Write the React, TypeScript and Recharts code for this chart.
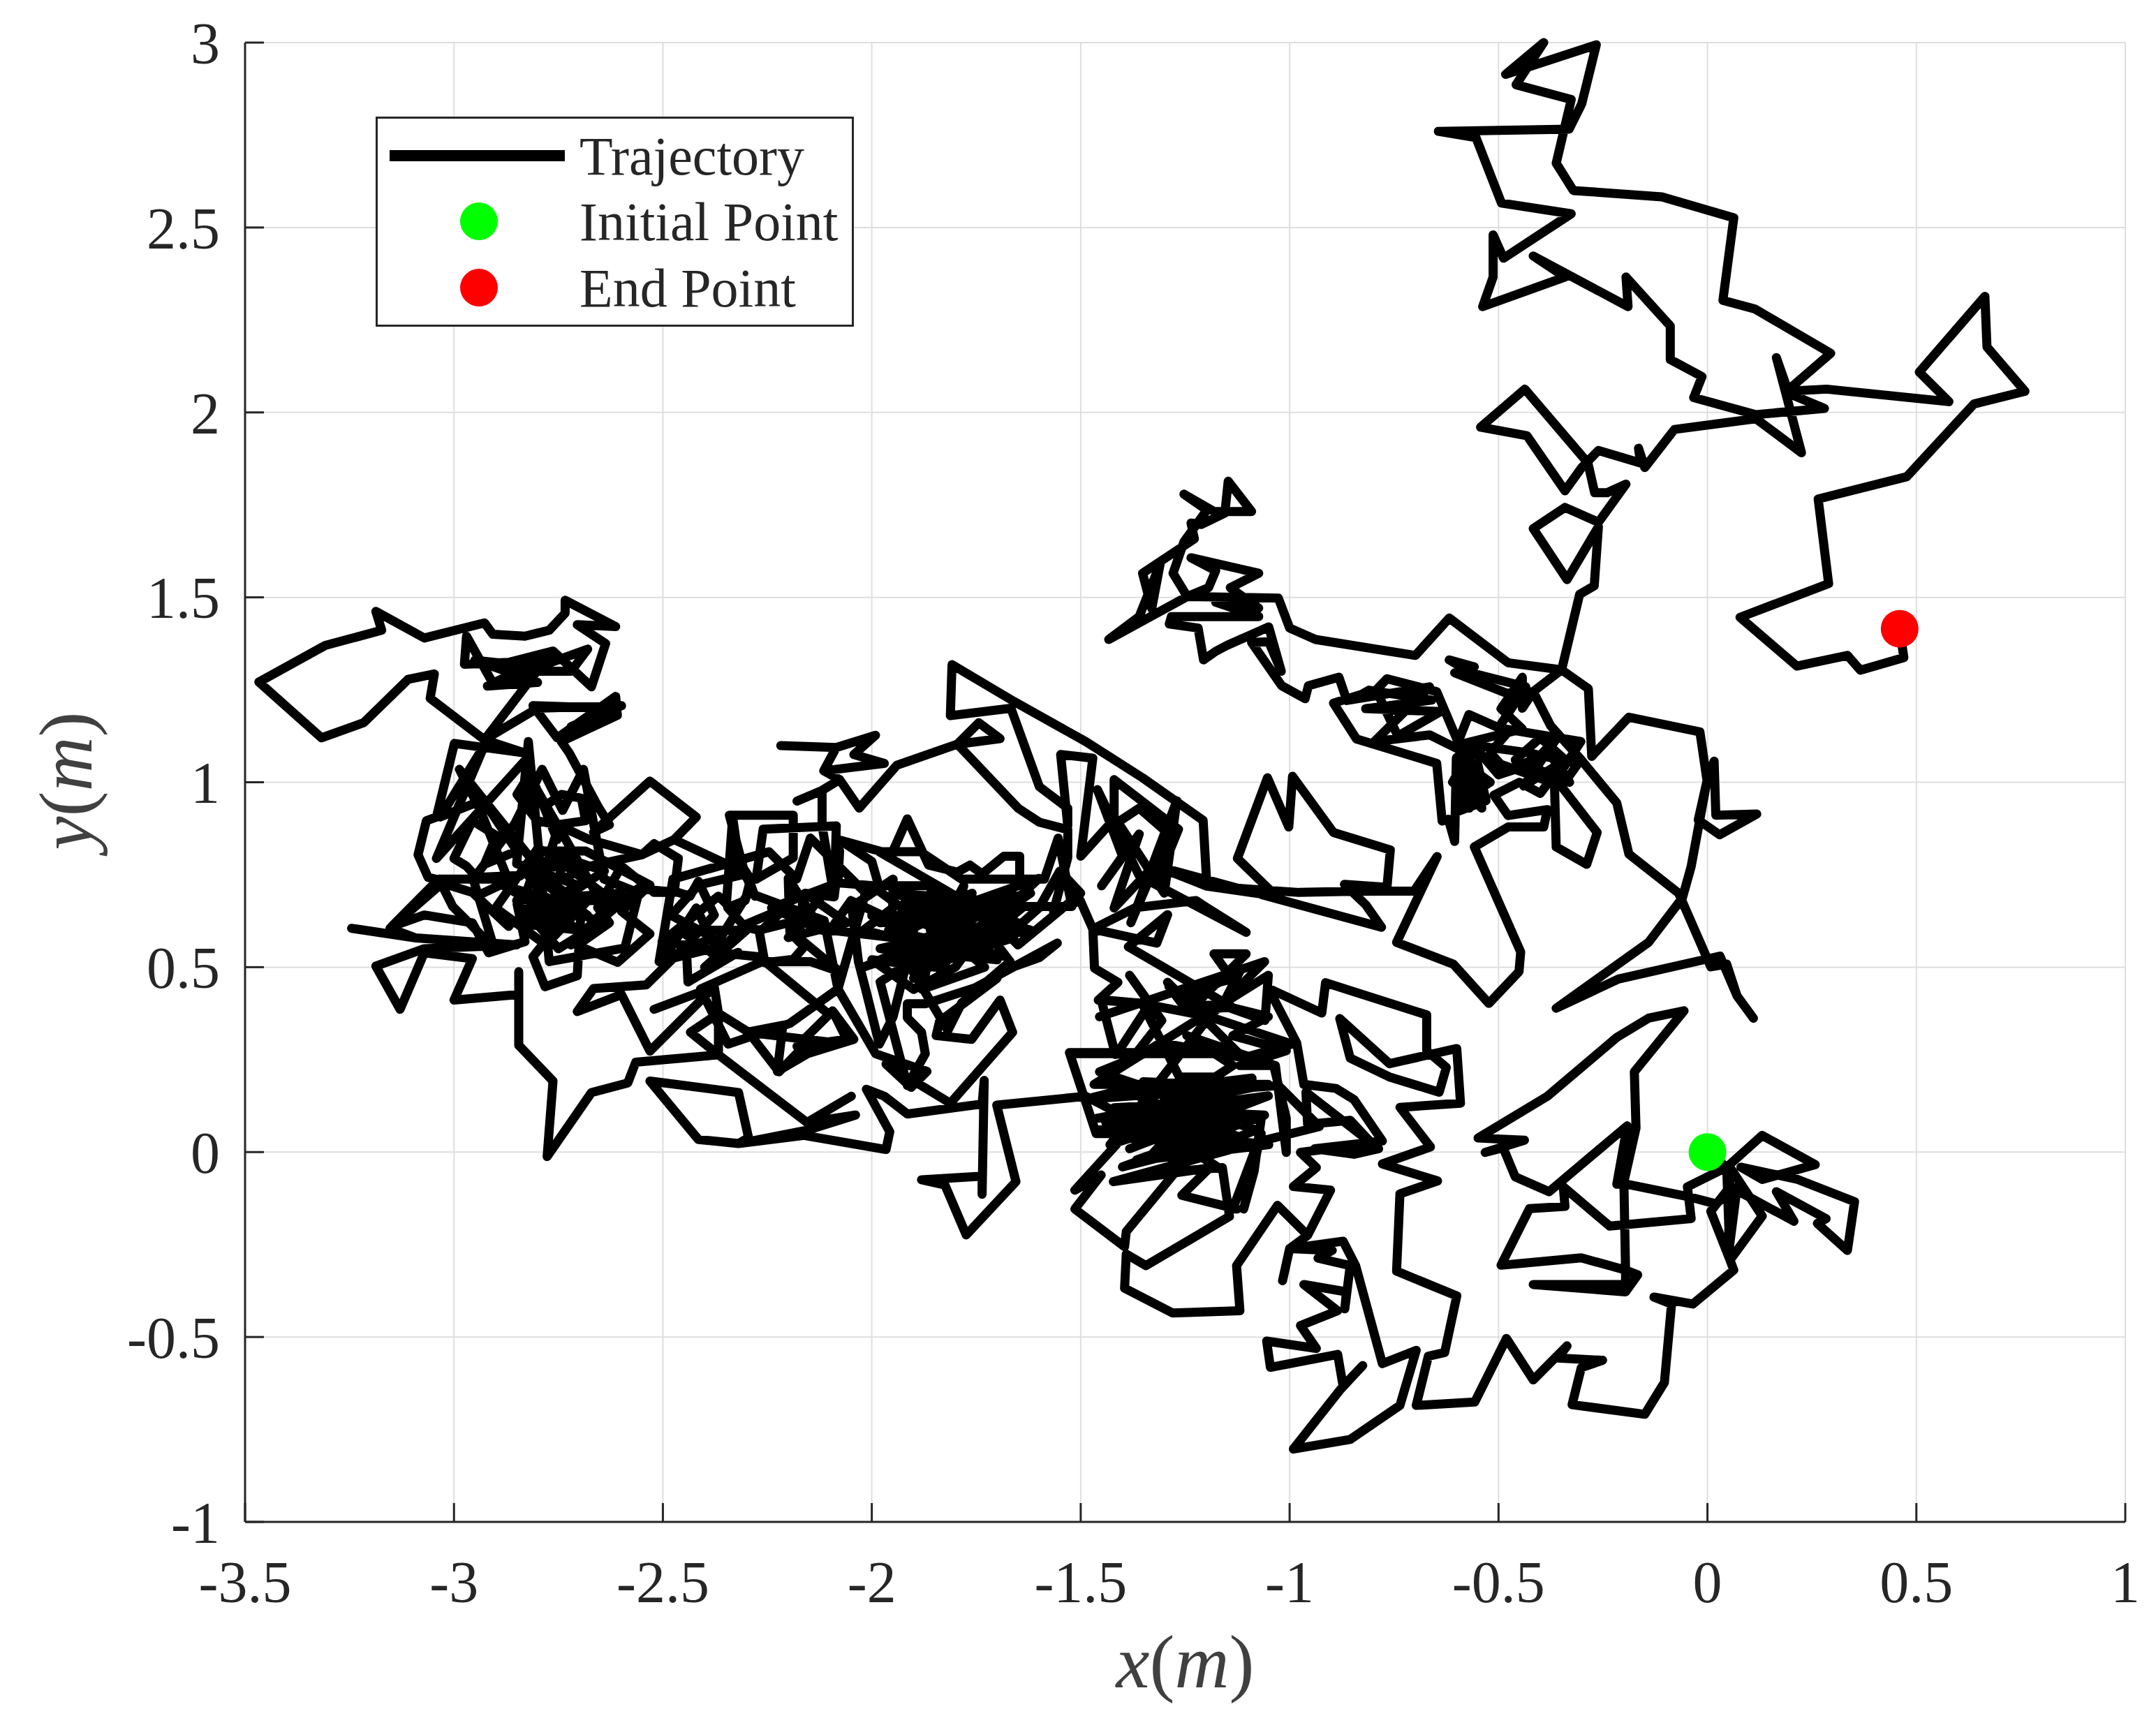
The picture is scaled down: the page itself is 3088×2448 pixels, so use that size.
import { Legend, Label, CartesianGrid, Scatter, ScatterChart, XAxis, YAxis } from "recharts";

type Pt = [number, number];

const xTicks = [-3.5, -3, -2.5, -2, -1.5, -1, -0.5, 0, 0.5, 1];
const yTicks = [-1, -0.5, 0, 0.5, 1, 1.5, 2, 2.5, 3];
const legendLabels = ["Trajectory", "Initial Point", "End Point"];
const initialPoint: Pt[] = [[0, 0]];
const endPoint: Pt[] = [[0.46, 1.415]];

// path, region by region, in metres
const startCluster: Pt[] = [
  [0, 0], [0.046, -0.041], [0.131, 0.045], [0.258, -0.034], [0.131, -0.074], [0.08, -0.041], [0.216, -0.074],
  [0.352, -0.134], [0.335, -0.266], [0.263, -0.193], [0.284, -0.18], [0.165, -0.107], [0.207, -0.187], [0.097, -0.12],
  [0.054, -0.094], [0.008, -0.16], [0.054, -0.292], [0.131, -0.173], [0.054, -0.041], [0.05, -0.279], [0.071, -0.094],
  [0.02, -0.14], [-0.048, -0.12], [-0.192, -0.087], [-0.217, -0.087], [-0.192, 0.071], [-0.379, -0.107], [-0.46, -0.067],
  [-0.489, 0.012], [-0.532, -0.001], [-0.438, 0.032], [-0.549, 0.038], [-0.383, 0.151], [-0.217, 0.31], [-0.141, 0.362],
  [-0.056, 0.382], [-0.175, 0.217], [-0.171, 0.065], [-0.2, -0.081], [-0.196, -0.319], [-0.167, -0.332], [-0.196, -0.378],
  [-0.417, -0.358], [-0.196, -0.358], [-0.196, -0.319], [-0.302, -0.286], [-0.494, -0.306], [-0.426, -0.153], [-0.341, -0.147],
  [-0.345, -0.094], [-0.234, -0.2], [-0.039, -0.18], [-0.048, -0.094], [0.046, -0.041], [0.054, -0.292], [0.063, -0.319],
];

const southLeg: Pt[] = [
  [-0.035, -0.411], [-0.128, -0.392], [-0.086, -0.411], [-0.103, -0.623], [-0.15, -0.709], [-0.324, -0.683], [-0.302, -0.583],
  [-0.251, -0.563], [-0.358, -0.557], [-0.336, -0.524], [-0.417, -0.616], [-0.481, -0.504], [-0.557, -0.676], [-0.697, -0.685],
  [-0.668, -0.552], [-0.629, -0.542], [-0.6, -0.389], [-0.744, -0.322], [-0.736, -0.113], [-0.646, -0.078], [-0.778, -0.032],
  [-0.663, 0.014], [-0.736, 0.121], [-0.591, 0.132], [-0.6, 0.28], [-0.761, 0.239], [-0.88, 0.361], [-0.855, 0.254],
  [-0.761, 0.203], [-0.642, 0.162], [-0.625, 0.229], [-0.672, 0.274], [-0.672, 0.371], [-0.914, 0.458],
];

const centralBlob: Pt[] = [
  [-0.923, 0.376], [-1.051, 0.443], [-0.983, 0.295], [-0.966, 0.183], [-0.889, 0.172], [-0.846, 0.142], [-0.778, 0.03],
  [-0.94, 0.009], [-0.846, -0.006], [-0.787, 0.009], [-0.897, 0.106], [-0.961, 0.162], [-0.957, 0.075], [-0.855, 0.086],
  [-0.804, 0.024], [-0.974, -0.001], [-0.936, -0.042], [-0.991, -0.093], [-0.902, -0.103], [-0.957, -0.225],
];

const southLoop: Pt[] = [
  [-1.0, -0.261], [-1.017, -0.348], [-1.0, -0.261], [-0.872, -0.241], [-0.842, -0.307], [-0.778, -0.572], [-0.697, -0.536],
  [-0.736, -0.685], [-0.855, -0.777], [-0.991, -0.803], [-0.88, -0.644], [-0.825, -0.577], [-0.872, -0.633], [-0.885, -0.547],
  [-1.046, -0.582], [-1.055, -0.511], [-0.936, -0.531], [-0.974, -0.469], [-0.885, -0.429], [-0.966, -0.358], [-0.864, -0.378],
  [-0.868, -0.424], [-0.855, -0.307], [-0.932, -0.287], [-0.898, -0.266], [-1.0, -0.261], [-0.957, -0.225],
];

const centralBlobWest: Pt[] = [
  [-1.029, -0.144], [-1.127, -0.307], [-1.119, -0.429], [-1.28, -0.435], [-1.395, -0.368], [-1.391, -0.276], [-1.344, -0.307],
  [-1.144, -0.174], [-1.161, -0.042], [-1.272, -0.052], [-1.391, -0.215], [-1.395, -0.256], [-1.514, -0.154], [-1.451, -0.062],
  [-1.514, -0.103], [-1.391, 0.05], [-1.463, 0.05], [-1.527, 0.269], [-1.366, 0.269], [-1.306, 0.356], [-1.383, 0.478],
  [-1.306, 0.356], [-1.366, 0.269], [-1.417, 0.264], [-1.451, 0.412], [-1.353, 0.402], [-1.264, 0.203], [-1.178, 0.203],
  [-1.136, 0.234], [-1.246, 0.315], [-1.034, 0.234], [-1.008, -0.001], [-1.008, 0.091], [-1.038, 0.234], [-1.119, 0.234],
  [-1.008, 0.274], [-1.136, 0.315], [-1.051, 0.366], [-1.161, 0.397], [-1.255, 0.397], [-1.289, 0.448], [-1.255, 0.407],
  [-1.119, 0.489], [-1.161, 0.397], [-1.059, 0.356], [-1.051, 0.478], [-1.468, 0.183], [-1.051, 0.183], [-1.463, 0.091],
  [-1.051, 0.152], [-1.383, 0.009], [-1.102, 0.132], [-1.374, 0.06], [-1.136, 0.07], [-1.366, -0.021], [-1.161, 0.009],
  [-1.459, 0.06], [-1.068, 0.091], [-1.085, -0.052], [-1.11, -0.154], [-1.068, 0.05], [-1.136, -0.154],
];

const centralSpread: Pt[] = [
  [-1.126, -0.154], [-1.258, -0.117], [-1.192, -0.043], [-1.422, -0.08], [-1.06, 0.032], [-0.929, 0.069], [-1.027, 0.18],
  [-1.488, 0.143], [-1.357, 0.18], [-1.455, 0.217], [-1.291, 0.292], [-1.11, 0.255], [-0.994, 0.292], [-1.192, 0.366],
  [-1.357, 0.403], [-1.455, 0.366], [-1.06, 0.515], [-1.192, 0.366],
];

const centralDense: Pt[] = [
  [-1.43, 0.02], [-1.1, 0.14], [-1.42, 0.12], [-1.06, 0.1], [-1.4, -0.04], [-1.12, 0.04], [-1.38, 0.16], [-1.09, 0.2],
  [-1.36, 0.1], [-1.16, -0.05], [-1.3, 0.05], [-1.05, 0.02], [-1.34, -0.02], [-1.2, 0.16], [-1.44, 0.08], [-1.14, 0.12],
  [-1.28, -0.03], [-1.08, 0.06], [-1.3, 0.14], [-1.2, 0.03], [-1.4, 0.04], [-1.18, 0.11], [-1.35, 0.19], [-1.12, 0.18],
  [-1.26, 0.09], [-1.2, -0.02], [-1.488, 0.151],
];

const westCrossing: Pt[] = [
  [-1.701, 0.127], [-1.655, -0.08], [-1.774, -0.224], [-1.825, -0.089], [-1.881, -0.075], [-1.736, -0.065], [-1.736, -0.114],
  [-1.731, 0.194], [-1.736, 0.13], [-1.915, 0.103], [-1.97, 0.151], [-2.013, 0.17], [-1.957, 0.055], [-1.966, 0.007],
  [-2.162, 0.045], [-2.319, 0.023], [-2.415, 0.034], [-2.531, 0.192], [-2.319, 0.161], [-2.295, 0.039], [-2.319, 0.023],
  [-2.155, 0.059], [-2.039, 0.1], [-2.155, 0.08], [-2.049, 0.151], [-2.155, 0.08], [-2.367, 0.263], [-2.565, 0.243],
  [-2.584, 0.187], [-2.671, 0.161], [-2.777, -0.012], [-2.763, 0.192], [-2.845, 0.289], [-2.845, 0.488], [-2.845, 0.426],
  [-3.0, 0.411], [-2.956, 0.523], [-3.071, 0.539], [-3.129, 0.386], [-3.187, 0.503], [-3.071, 0.55], [-2.85, 0.56],
  [-3.091, 0.579], [-3.245, 0.605], [-3.091, 0.579], [-3.153, 0.605], [-3.023, 0.732], [-3.062, 0.743], [-3.086, 0.804],
  [-3.066, 0.896], [-3.042, 0.906], [-2.999, 1.105],
];

const farWest: Pt[] = [
  [-2.83, 1.079], [-2.927, 1.115], [-3.057, 1.227], [-3.047, 1.293], [-3.11, 1.278], [-3.216, 1.161], [-3.317, 1.12],
  [-3.467, 1.271], [-3.308, 1.37], [-3.173, 1.411], [-3.187, 1.462], [-3.071, 1.39], [-2.927, 1.431], [-2.907, 1.4],
  [-2.83, 1.395], [-2.772, 1.411], [-2.734, 1.457], [-2.734, 1.492], [-2.613, 1.421], [-2.705, 1.426], [-2.637, 1.375],
  [-2.671, 1.258], [-2.763, 1.355], [-2.869, 1.324], [-2.975, 1.319], [-2.97, 1.395], [-2.907, 1.268], [-2.821, 1.314],
  [-2.95, 1.33], [-2.8, 1.27], [-2.92, 1.26], [-2.76, 1.33], [-2.88, 1.3], [-2.72, 1.3], [-2.68, 1.36],
  [-2.792, 1.314], [-2.927, 1.115], [-2.8, 1.2], [-2.599, 1.207], [-2.72, 1.15], [-2.62, 1.2], [-2.811, 1.207], [-2.753, 1.12], [-2.613, 1.232],
  [-2.609, 1.181], [-2.743, 1.11], [-2.724, 1.079], [-2.656, 0.936], [-2.628, 0.885], [-2.666, 0.865], [-2.531, 1.003],
  [-2.42, 0.906], [-2.473, 0.845], [-2.55, 0.804], [-2.676, 0.845], [-2.753, 0.885],
];

const westBlob: Pt[] = [
  [-2.801, 0.896], [-2.849, 0.967], [-2.821, 1.018], [-2.753, 0.885], [-2.685, 0.896], [-2.695, 0.957], [-2.743, 0.967],
  [-2.782, 0.936], [-2.753, 0.845], [-2.83, 1.059], [-3.042, 0.794], [-2.927, 1.1], [-3.033, 0.906], [-2.931, 0.952],
  [-2.849, 0.814], [-2.927, 0.778], [-2.898, 0.855], [-2.956, 0.896], [-3.0, 0.794], [-2.97, 0.773], [-2.946, 0.743],
  [-2.84, 0.748], [-2.946, 0.692], [-2.869, 0.61], [-2.956, 0.702], [-3.042, 0.732], [-3.149, 0.61], [-3.071, 0.641],
  [-2.956, 0.62], [-2.917, 0.539], [-2.83, 0.569], [-2.849, 0.671], [-2.811, 0.62], [-2.772, 0.651], [-2.83, 0.692],
  [-2.792, 0.814], [-2.685, 0.814], [-2.531, 0.722], [-2.599, 0.651], [-2.531, 0.59], [-2.608, 0.513], [-2.705, 0.559],
  [-2.628, 0.62], [-2.656, 0.661], [-2.599, 0.773], [-2.521, 0.702], [-2.473, 0.702], [-2.463, 0.794], [-2.521, 0.834],
  [-2.55, 0.804], [-2.676, 0.773], [-2.753, 0.732], [-2.753, 0.61], [-2.811, 0.528], [-2.782, 0.447], [-2.705, 0.477],
  [-2.695, 0.671], [-2.772, 0.732],
];

const westSpread: Pt[] = [
  [-2.987, 1.035], [-2.937, 0.924], [-2.871, 0.738], [-3.036, 0.738], [-3.003, 0.664], [-2.904, 0.552], [-2.954, 0.738],
  [-2.855, 0.887], [-2.789, 1.035], [-2.74, 0.924], [-2.69, 1.035], [-2.641, 0.738], [-2.558, 0.701], [-2.591, 0.552],
  [-2.772, 0.515], [-2.822, 1.11],
];

const westDense: Pt[] = [
  [-2.85, 0.78], [-2.7, 0.72], [-2.82, 0.66], [-2.68, 0.64], [-2.8, 0.74], [-2.72, 0.82], [-2.66, 0.7], [-2.78, 0.6],
  [-2.74, 0.78], [-2.62, 0.68], [-2.76, 0.68], [-2.88, 0.72], [-2.7, 0.6], [-2.86, 0.62], [-2.72, 0.7], [-2.64, 0.76],
  [-2.8, 0.82], [-2.9, 0.66], [-2.78, 0.56], [-2.68, 0.68], [-2.74, 0.62], [-2.83, 0.76], [-2.7, 0.78], [-2.75, 0.88],
  [-2.8, 0.7], [-2.65, 0.62], [-2.75, 0.55], [-2.85, 0.68], [-2.6, 0.7], [-2.72, 0.56], [-2.56, 0.712], [-2.463, 0.702],
  [-2.435, 0.692], [-2.415, 0.732], [-2.377, 0.641], [-2.444, 0.559], [-2.502, 0.569], [-2.367, 0.692], [-2.348, 0.671],
  [-2.333, 0.906], [-2.319, 0.794], [-2.28, 0.692], [-2.299, 0.753], [-2.473, 0.845], [-2.299, 0.753], [-2.415, 0.722],
  [-2.48, 0.64], [-2.38, 0.58], [-2.5, 0.52], [-2.42, 0.66], [-2.36, 0.52], [-2.46, 0.6], [-2.3, 0.6], [-2.4, 0.5],
  [-2.32, 0.54], [-2.44, 0.46], [-2.444, 0.559], [-2.54, 0.452],
];

const westSouthEdge: Pt[] = [
  [-2.666, 0.442], [-2.705, 0.38], [-2.599, 0.426], [-2.531, 0.273], [-2.377, 0.447], [-2.521, 0.386], [-2.377, 0.447],
  [-2.367, 0.375], [-2.434, 0.324], [-2.367, 0.263], [-2.367, 0.375], [-2.295, 0.324], [-2.222, 0.217], [-2.174, 0.273],
  [-2.077, 0.294], [-2.299, 0.324], [-2.213, 0.343], [-2.226, 0.218], [-2.154, 0.266], [-2.043, 0.305], [-2.094, 0.382],
  [-2.06, 0.305], [-2.179, 0.286], [-2.102, 0.372], [-2.27, 0.528], [-2.367, 0.539], [-2.309, 0.61], [-2.27, 0.6],
  [-2.164, 0.63], [-2.164, 0.692], [-2.174, 0.579], [-2.077, 0.488],
];

const betweenBlobs: Pt[] = [
  [-2.147, 0.515], [-2.262, 0.515], [-2.41, 0.441], [-2.344, 0.292], [-2.196, 0.348], [-2.081, 0.441], [-2.114, 0.626],
  [-2.295, 0.701], [-2.377, 0.552], [-2.509, 0.515], [-2.476, 0.738], [-2.246, 0.812], [-2.18, 0.738], [-2.147, 0.849],
  [-2.015, 0.701], [-2.081, 0.441],
];

const midBlob: Pt[] = [
  [-1.991, 0.266], [-1.868, 0.218], [-1.906, 0.175], [-1.966, 0.238], [-1.812, 0.132], [-1.663, 0.324], [-1.693, 0.411],
  [-1.761, 0.305], [-1.846, 0.315], [-1.838, 0.353], [-1.701, 0.469], [-1.693, 0.488], [-1.599, 0.526], [-1.556, 0.565],
  [-1.753, 0.444], [-1.872, 0.401], [-1.915, 0.401], [-1.915, 0.363], [-1.881, 0.324], [-1.872, 0.266], [-1.915, 0.18],
  [-1.98, 0.46], [-1.9, 0.52], [-1.78, 0.62], [-1.68, 0.58], [-1.6, 0.66], [-1.55, 0.76], [-1.5, 0.7], [-1.65, 0.56],
  [-1.72, 0.64],
];

const midDense: Pt[] = [
  [-1.98, 0.62], [-1.7, 0.66], [-2.02, 0.5], [-1.66, 0.64], [-1.94, 0.48], [-1.72, 0.68], [-1.95, 0.7], [-1.62, 0.6],
  [-1.92, 0.54], [-1.68, 0.53], [-1.96, 0.6], [-1.76, 0.7], [-1.84, 0.46], [-1.78, 0.72], [-1.9, 0.47], [-1.74, 0.6],
  [-1.87, 0.68], [-1.68, 0.66], [-1.83, 0.54], [-1.62, 0.7], [-1.93, 0.62], [-1.82, 0.47], [-1.86, 0.6], [-1.7, 0.52],
  [-1.98, 0.55], [-1.8, 0.6], [-1.92, 0.68], [-1.73, 0.5], [-1.88, 0.44], [-1.84, 0.64], [-2.0, 0.64], [-1.66, 0.58],
  [-1.8, 0.53], [-1.95, 0.52], [-1.86, 0.7], [-1.75, 0.66],
];

const midSpread: Pt[] = [
  [-1.982, 0.812], [-1.883, 0.812], [-1.785, 0.738], [-1.587, 0.738], [-1.554, 0.849], [-1.521, 0.664], [-1.636, 0.664],
  [-1.719, 0.589], [-1.669, 0.515], [-1.785, 0.403], [-1.818, 0.329], [-1.916, 0.515], [-1.949, 0.366], [-1.982, 0.292],
  [-2.015, 0.441], [-2.032, 0.515], [-2.048, 0.664], [-1.949, 0.738],
];

const midBlobNorth: Pt[] = [
  [-1.95, 0.66], [-2.02, 0.6], [-1.88, 0.56], [-1.76, 0.56], [-1.88, 0.62], [-2.0, 0.72], [-1.85, 0.72],
  [-1.9, 0.6], [-2.05, 0.68], [-2.1, 0.6], [-1.95, 0.58], [-1.8, 0.66], [-1.7, 0.7], [-1.6, 0.74], [-1.75, 0.58],
  [-1.65, 0.62], [-1.85, 0.5], [-2.0, 0.52], [-1.9, 0.44], [-1.8, 0.5], [-1.646, 0.738], [-1.646, 0.8], [-1.684, 0.8],
  [-1.736, 0.752], [-1.765, 0.776], [-1.795, 0.757], [-1.864, 0.776], [-1.915, 0.901], [-1.953, 0.805], [-2.077, 0.844],
  [-2.0, 0.786], [-1.983, 0.719], [-2.081, 0.728], [-2.077, 0.815], [-2.09, 0.69], [-2.085, 0.882], [-2.26, 0.873],
  [-2.277, 0.738], [-2.188, 0.796], [-2.188, 0.911], [-2.341, 0.911], [-2.307, 0.767], [-2.29, 0.738], [-2.303, 0.68],
  [-2.345, 0.661], [-2.307, 0.613], [-2.205, 0.661], [-2.269, 0.594], [-2.256, 0.512], [-2.188, 0.521], [-2.162, 0.555],
  [-2.196, 0.594], [-2.2, 0.74], [-2.12, 0.6], [-2.24, 0.66], [-2.1, 0.72], [-2.2, 0.58], [-2.06, 0.62], [-2.16, 0.7],
  [-2.09, 0.69], [-2.119, 0.882],
];

const topMiddle: Pt[] = [
  [-2.119, 0.978], [-2.179, 0.949], [-2.119, 0.978], [-2.077, 1.007], [-2.115, 1.031], [-1.97, 1.051], [-2.043, 1.075],
  [-1.991, 1.127], [-2.085, 1.094], [-2.218, 1.099], [-2.085, 1.094], [-2.115, 1.031], [-2.077, 1.007], [-2.03, 0.93],
  [-1.94, 1.046], [-1.795, 1.103], [-1.744, 1.161], [-1.693, 1.118], [-1.795, 1.103], [-1.65, 0.93], [-1.599, 0.892],
  [-1.531, 0.872],
];

const eastOfMid: Pt[] = [
  [-1.531, 0.796], [-1.565, 0.651], [-1.501, 0.68], [-1.471, 0.603], [-1.467, 0.497], [-1.411, 0.459], [-1.458, 0.411],
  [-1.335, 0.401], [-1.411, 0.27], [-1.522, 0.266], [-1.121, 0.266], [-1.292, 0.459], [-1.275, 0.43], [-1.138, 0.468],
  [-1.181, 0.536], [-1.104, 0.536], [-1.241, 0.382], [-1.138, 0.392], [-1.386, 0.555], [-1.292, 0.642], [-1.318, 0.565],
  [-1.471, 0.603], [-1.369, 0.661], [-1.224, 0.68], [-1.198, 0.661], [-1.104, 0.594], [-1.36, 0.747],
  [-1.46, 0.98], [-1.4, 0.8], [-1.45, 0.72], [-1.36, 0.86], [-1.42, 0.66], [-1.32, 0.78], [-1.38, 0.62], [-1.27, 0.95], [-1.3, 0.7],
  [-1.411, 0.892], [-1.36, 0.93], [-1.292, 0.863], [-1.318, 0.728], [-1.266, 0.873], [-1.42, 1.007], [-1.42, 0.9], [-1.5, 0.8], [-1.471, 1.065],
  [-1.548, 1.075], [-1.531, 0.882], [-1.531, 0.93], [-1.599, 0.988], [-1.667, 1.2], [-1.812, 1.18], [-1.808, 1.318],
  [-1.659, 1.218], [-1.488, 1.11], [-1.352, 1.012], [-1.207, 0.897], [-1.198, 0.719], [-1.324, 0.775], [-0.78, 0.608],
];

const centreNorth: Pt[] = [
  [-0.818, 0.669], [-0.869, 0.724], [-0.767, 0.716], [-0.759, 0.817], [-0.895, 0.864], [-0.993, 1.016], [-1.002, 0.879],
  [-1.053, 1.012], [-1.125, 0.794], [-1.032, 0.692], [-1.198, 0.719], [-0.978, 0.702], [-0.85, 0.705], [-0.702, 0.706],
  [-0.647, 0.799], [-0.744, 0.567], [-0.608, 0.508], [-0.523, 0.402], [-0.451, 0.488], [-0.447, 0.541], [-0.558, 0.825],
  [-0.477, 0.879], [-0.392, 0.879], [-0.383, 0.926], [-0.477, 0.91], [-0.511, 0.965], [-0.45, 1.0], [-0.4, 0.97],
  [-0.36, 1.03], [-0.366, 0.988], [-0.362, 0.825], [-0.289, 0.778], [-0.264, 0.864], [-0.349, 0.988], [-0.31, 1.05],
  [-0.43, 1.08], [-0.494, 1.09], [-0.56, 1.1], [-0.601, 1.066], [-0.605, 0.84], [-0.62, 0.9], [-0.635, 0.895], [-0.648, 1.051],
  [-0.84, 1.117], [-0.895, 1.214], [-0.827, 1.238], [-0.81, 1.249], [-0.66, 1.222], [-0.818, 1.199], [-0.639, 1.191],
  [-0.741, 1.125], [-0.793, 1.249], [-0.767, 1.28], [-0.648, 1.245], [-0.59, 1.09], [-0.57, 0.93], [-0.55, 1.05], [-0.53, 0.95],
  [-0.6, 0.92], [-0.57, 1.08], [-0.61, 1.0], [-0.54, 0.93], [-0.58, 1.05], [-0.52, 1.0], [-0.59, 0.95], [-0.56, 1.1], [-0.5, 1.02],
  [-0.42, 1.05], [-0.36, 1.12], [-0.44, 0.99], [-0.34, 1.06], [-0.4, 1.12], [-0.46, 1.06], [-0.33, 1.0], [-0.38, 1.08],
  [-0.48, 1.03], [-0.52, 1.08], [-0.477, 1.136], [-0.571, 1.183], [-0.6, 1.1], [-0.443, 1.144], [-0.494, 1.199], [-0.443, 1.284],
  [-0.443, 1.2], [-0.417, 1.245], [-0.375, 1.152], [-0.306, 1.066], [-0.28, 1.03], [-0.217, 0.944], [-0.188, 0.806],
];

const eastSpur: Pt[] = [
  [-0.069, 0.7], [0.008, 0.501], [0.046, 0.508], [0.071, 0.422], [0.11, 0.362], [0.071, 0.422], [0.03, 0.53], [-0.213, 0.468],
  [-0.362, 0.389], [-0.141, 0.567], [-0.06, 0.687], [-0.039, 0.772], [-0.001, 1.004], [0.016, 1.057], [0.02, 0.911],
  [0.118, 0.914], [0.029, 0.858], [-0.022, 0.898], [-0.001, 1.004], [-0.018, 1.136], [-0.188, 1.176], [-0.277, 1.07],
  [-0.285, 1.253], [-0.349, 1.304], [-0.417, 1.245], [-0.481, 1.241], [-0.605, 1.296], [-0.558, 1.312], [-0.618, 1.331],
];

const northEastSpread: Pt[] = [
  [-0.566, 1.296], [-0.435, 1.258], [-0.5, 1.147], [-0.303, 1.11], [-0.369, 0.998], [-0.599, 1.091], [-0.665, 1.128],
  [-0.797, 1.11], [-0.665, 1.258], [-0.863, 1.221],
];

const northKnot: Pt[] = [
  [-0.882, 1.284], [-0.955, 1.261], [-0.963, 1.226], [-1.019, 1.261], [-1.091, 1.378], [-1.05, 1.38], [-1.02, 1.3],
  [-1.05, 1.42], [-1.15, 1.37], [-1.177, 1.354], [-1.206, 1.331],
  [-1.219, 1.417], [-1.288, 1.428], [-1.283, 1.448], [-1.074, 1.448], [-1.177, 1.487], [-1.074, 1.471], [-1.142, 1.526],
  [-1.074, 1.565], [-1.236, 1.607], [-1.177, 1.572], [-1.194, 1.526], [-1.245, 1.502], [-1.279, 1.565], [-1.253, 1.65],
  [-1.198, 1.736], [-1.253, 1.779], [-1.181, 1.732], [-1.091, 1.732], [-1.147, 1.814], [-1.155, 1.728], [-1.211, 1.697],
  [-1.236, 1.701], [-1.228, 1.658], [-1.352, 1.565], [-1.33, 1.47], [-1.31, 1.59], [-1.36, 1.448], [-1.433, 1.386], [-1.245, 1.502], [-1.027, 1.498],
  [-1.0, 1.417], [-0.938, 1.386], [-0.699, 1.343], [-0.618, 1.444], [-0.477, 1.323], [-0.349, 1.304],
];

const finalLeg: Pt[] = [
  [-0.306, 1.508], [-0.271, 1.531], [-0.261, 1.691], [-0.336, 1.548], [-0.417, 1.686], [-0.341, 1.743], [-0.261, 1.703],
  [-0.195, 1.806], [-0.24, 1.783], [-0.27, 1.783], [-0.286, 1.863], [-0.437, 2.063], [-0.543, 1.96], [-0.432, 1.937],
  [-0.341, 1.788], [-0.301, 1.851], [-0.261, 1.897], [-0.16, 1.863], [-0.165, 1.903], [-0.15, 1.851], [-0.079, 1.954],
  [0.116, 1.983], [0.225, 1.891], [0.165, 2.148], [0.195, 2.051], [0.28, 2.011], [0.116, 1.994], [-0.033, 2.04],
  [-0.013, 2.097], [-0.089, 2.143], [-0.089, 2.234], [-0.195, 2.366], [-0.19, 2.286], [-0.417, 2.423], [-0.341, 2.366],
  [-0.538, 2.286], [-0.513, 2.366], [-0.513, 2.48], [-0.488, 2.417], [-0.326, 2.537], [-0.493, 2.566], [-0.554, 2.743],
  [-0.644, 2.76], [-0.331, 2.766], [-0.301, 2.834], [-0.266, 2.994], [-0.483, 2.914], [-0.392, 3.0], [-0.458, 2.886],
  [-0.326, 2.846], [-0.362, 2.674], [-0.321, 2.6], [-0.109, 2.583], [0.063, 2.526], [0.037, 2.303], [0.113, 2.28],
  [0.295, 2.16], [0.189, 2.057], [0.285, 2.063], [0.578, 2.029], [0.507, 2.109], [0.664, 2.314], [0.669, 2.177],
  [0.76, 2.057], [0.638, 2.023], [0.477, 1.826], [0.265, 1.766], [0.29, 1.537], [0.078, 1.446], [0.214, 1.314],
  [0.335, 1.343], [0.366, 1.303], [0.47, 1.337], [0.46, 1.415],
];

const toRows = (pts: Pt[]) => pts.map(([x, y]) => ({ x, y }));
const trajectory = toRows([
  ...startCluster, ...southLeg, ...centralBlob, ...southLoop, ...centralBlobWest, ...centralSpread, ...centralDense,
  ...westCrossing, ...farWest, ...westBlob, ...westSpread, ...westDense, ...westSouthEdge, ...betweenBlobs, ...midBlob,
  ...midDense, ...midSpread, ...midBlobNorth, ...topMiddle, ...eastOfMid, ...centreNorth, ...eastSpur, ...northEastSpread,
  ...northKnot, ...finalLeg,
]);

const SERIF = '"Liberation Serif", serif';
const axisColor = "#262626";
const tickStyle = { fontFamily: SERIF, fontSize: 84, fill: axisColor };

const Marker = (props: any) => <circle cx={props.cx} cy={props.cy} r={27} fill={props.fill} />;
const NoDot = () => <g />;

function AxisName({ a, viewBox, rotate }: any) {
  const italic = { fontStyle: "italic" as const };
  const cx = rotate ? 94 : viewBox.x + viewBox.width / 2 + 0;
  const cy = rotate ? viewBox.y + viewBox.height / 2 - 2 : 2380;
  return (
    <text
      x={cx}
      y={cy}
      textAnchor="middle"
      dominantBaseline="central"
      fontFamily={SERIF}
      fontSize={108}
      fill="#404040"
      transform={rotate ? `rotate(-90 ${cx} ${cy})` : undefined}
    >
      <tspan {...italic}>{a}</tspan>
      <tspan>(</tspan>
      <tspan {...italic}>m</tspan>
      <tspan>)</tspan>
    </text>
  );
}

function LegendBox() {
  const rowTop = [223, 317, 412];
  const colors = ["#000000", "#00ff00", "#ff0000"];
  const left = 538;
  const top = 167;
  return (
    <div
      style={{
        position: "relative",
        width: 685,
        height: 301,
        boxSizing: "border-box",
        border: `3px solid ${axisColor}`,
        background: "#fff",
      }}
    >
      {legendLabels.map((label, i) => (
        <div key={label}>
          {i === 0 ? (
            <div
              style={{
                position: "absolute",
                left: 558 - left - 3,
                top: rowTop[0] - top - 3 - 8,
                width: 251,
                height: 16,
                background: colors[0],
              }}
            />
          ) : (
            <div
              style={{
                position: "absolute",
                left: 686 - left - 3 - 27,
                top: rowTop[i] - top - 3 - 27,
                width: 54,
                height: 54,
                borderRadius: "50%",
                background: colors[i],
              }}
            />
          )}
          <div
            style={{
              position: "absolute",
              left: 830 - left - 3,
              top: rowTop[i] - top - 3 - 49,
              height: 100,
              lineHeight: "100px",
              fontFamily: SERIF,
              fontSize: 78,
              color: axisColor,
              whiteSpace: "nowrap",
            }}
          >
            {label}
          </div>
        </div>
      ))}
    </div>
  );
}

export default function App() {
  return (
    <div style={{ position: "absolute", left: 0, top: 0, width: 3088, height: 2448, background: "#fff" }}>
      <ScatterChart width={3088} height={2448} margin={{ top: 61, right: 44, bottom: 0, left: 0 }}>
        <CartesianGrid stroke="#dedede" strokeWidth={2} />
        <XAxis
          type="number"
          dataKey="x"
          domain={[-3.5, 1]}
          ticks={xTicks}
          interval={0}
          height={268}
          tickSize={-27}
          tickMargin={82}
          stroke={axisColor}
          strokeWidth={3}
          tick={tickStyle}
        >
          <Label content={(p: any) => <AxisName {...p} a="x" />} />
        </XAxis>
        <YAxis
          type="number"
          dataKey="y"
          domain={[-1, 3]}
          ticks={yTicks}
          interval={0}
          width={351}
          tickSize={-27}
          tickMargin={63}
          stroke={axisColor}
          strokeWidth={3}
          tick={tickStyle}
        >
          <Label content={(p: any) => <AxisName {...p} a="y" rotate />} />
        </YAxis>
        <Legend
          layout="vertical"
          align="center"
          verticalAlign="middle"
          content={() => <LegendBox />}
          wrapperStyle={{ left: 538, top: 167, width: 685, height: 301 }}
        />
        <Scatter
          name="Trajectory"
          data={trajectory}
          stroke="#000000"
          fill="#000000"
          line={{ stroke: "#000000", strokeWidth: 13, strokeLinejoin: "round", strokeLinecap: "round" }}
          shape={NoDot}
          isAnimationActive={false}
        />
        <Scatter name="End Point" data={toRows(endPoint)} fill="#ff0000" shape={Marker} isAnimationActive={false} />
        <Scatter name="Initial Point" data={toRows(initialPoint)} fill="#00ff00" shape={Marker} isAnimationActive={false} />
      </ScatterChart>
    </div>
  );
}
